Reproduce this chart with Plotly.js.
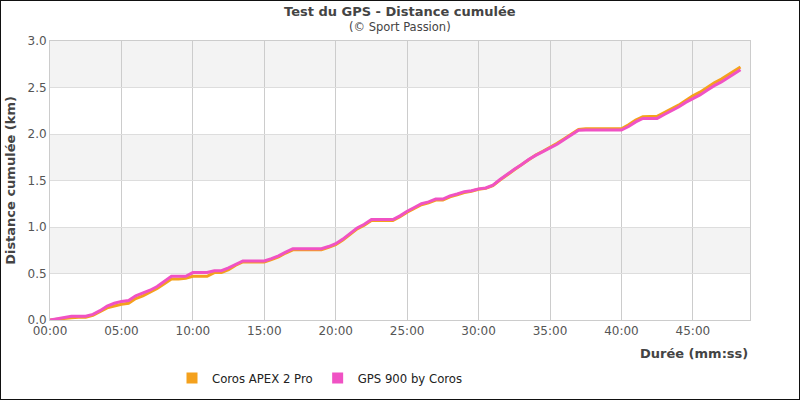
<!DOCTYPE html>
<html>
<head>
<meta charset="utf-8">
<script src="https://cdn.plot.ly/plotly-3.0.1.min.js"></script>
<style>
  body { margin: 0; }
  #wrap { position: relative; width: 800px; height: 400px; }
  #App { width: 800px; height: 400px; }
  #frame { position: absolute; left: 0; top: 0; width: 798px; height: 398px; border: 1px solid #111; pointer-events: none; }
</style>
</head>
<body>
<div id="wrap">
  <div id="App"></div>
  <div id="frame"></div>
</div>
<script>
// durées (mm:ss), une mesure toutes les 30 s
const times = [
  "00:00", "00:30", "01:00", "01:30", "02:00", "02:30", "03:00", "03:30", "04:00", "04:30",
  "05:00", "05:30", "06:00", "06:30", "07:00", "07:30", "08:00", "08:30", "09:00", "09:30",
  "10:00", "10:30", "11:00", "11:30", "12:00", "12:30", "13:00", "13:30", "14:00", "14:30",
  "15:00", "15:30", "16:00", "16:30", "17:00", "17:30", "18:00", "18:30", "19:00", "19:30",
  "20:00", "20:30", "21:00", "21:30", "22:00", "22:30", "23:00", "23:30", "24:00", "24:30",
  "25:00", "25:30", "26:00", "26:30", "27:00", "27:30", "28:00", "28:30", "29:00", "29:30",
  "30:00", "30:30", "31:00", "31:30", "32:00", "32:30", "33:00", "33:30", "34:00", "34:30",
  "35:00", "35:30", "36:00", "36:30", "37:00", "37:30", "38:00", "38:30", "39:00", "39:30",
  "40:00", "40:30", "41:00", "41:30", "42:00", "42:30", "43:00", "43:30", "44:00", "44:30",
  "45:00", "45:30", "46:00", "46:30", "47:00", "47:30", "48:00", "48:20"
];

// distance cumulée (km)
const corosApex = [
  0.00, 0.01, 0.02, 0.025, 0.03, 0.03, 0.05, 0.09, 0.13, 0.15,
  0.17, 0.18, 0.23, 0.26, 0.30, 0.34, 0.39, 0.44, 0.44, 0.45,
  0.47, 0.47, 0.47, 0.51, 0.51, 0.54, 0.59, 0.625, 0.625, 0.625,
  0.625, 0.65, 0.68, 0.72, 0.755, 0.755, 0.755, 0.755, 0.755, 0.78,
  0.81, 0.86, 0.92, 0.98, 1.02, 1.07, 1.07, 1.07, 1.07, 1.11,
  1.16, 1.20, 1.24, 1.26, 1.29, 1.29, 1.325, 1.345, 1.37, 1.385,
  1.405, 1.415, 1.445, 1.505, 1.565, 1.615, 1.67, 1.725, 1.775, 1.815,
  1.855, 1.90, 1.95, 2.00, 2.05, 2.057, 2.057, 2.057, 2.057, 2.057,
  2.057, 2.10, 2.15, 2.186, 2.19, 2.19, 2.23, 2.27, 2.31, 2.36,
  2.41, 2.45, 2.50, 2.55, 2.59, 2.64, 2.69, 2.72
];
const gps900 = [
  0.00, 0.015, 0.03, 0.04, 0.04, 0.04, 0.06, 0.10, 0.15, 0.18,
  0.20, 0.21, 0.26, 0.29, 0.32, 0.36, 0.42, 0.47, 0.47, 0.47,
  0.51, 0.51, 0.51, 0.53, 0.53, 0.56, 0.60, 0.635, 0.635, 0.635,
  0.635, 0.66, 0.69, 0.73, 0.767, 0.767, 0.767, 0.767, 0.767, 0.79,
  0.82, 0.87, 0.93, 0.99, 1.03, 1.08, 1.08, 1.08, 1.08, 1.12,
  1.17, 1.21, 1.25, 1.27, 1.30, 1.30, 1.335, 1.355, 1.38, 1.39,
  1.41, 1.42, 1.45, 1.51, 1.57, 1.62, 1.67, 1.725, 1.77, 1.81,
  1.85, 1.89, 1.94, 1.99, 2.04, 2.043, 2.043, 2.043, 2.043, 2.043,
  2.043, 2.08, 2.13, 2.168, 2.168, 2.168, 2.21, 2.25, 2.29, 2.34,
  2.38, 2.42, 2.47, 2.52, 2.56, 2.61, 2.66, 2.69
];

const seriesNames = ["Coros APEX 2 Pro", "GPS 900 by Coros"];
const seriesColors = ["#f4a11d", "#f052c4"];

const toDate = t => "1970-01-01 00:" + t;
const x = times.map(toDate);

const lineTrace = (y, i) => ({
  type: "scatter",
  mode: "lines",
  x: x,
  y: y,
  name: seriesNames[i],
  showlegend: false,
  line: { color: seriesColors[i], width: 3 },
  hoverinfo: "x+y+name"
});

// traces vides juste pour avoir des carrés dans la légende
const legendTrace = i => ({
  type: "scatter",
  mode: "markers",
  x: [null],
  y: [null],
  name: seriesNames[i],
  marker: { symbol: "square", size: 11, color: seriesColors[i] }
});

const data = [
  lineTrace(corosApex, 0),
  lineTrace(gps900, 1),
  legendTrace(0),
  legendTrace(1)
];

// bandes grises alternées
const bands = [[0.5, 1.0], [1.5, 2.0], [2.5, 3.0]].map(b => ({
  type: "rect", xref: "paper", yref: "y", x0: 0, x1: 1, y0: b[0], y1: b[1],
  fillcolor: "#f3f3f3", line: { width: 0 }, layer: "below"
}));

const font = { family: "DejaVu Sans, Verdana, sans-serif", color: "#444" };

const layout = {
  width: 800,
  height: 400,
  margin: { l: 50, r: 50, t: 41, b: 80 },
  paper_bgcolor: "#fff",
  plot_bgcolor: "#fff",
  font: font,
  showlegend: true,
  legend: {
    orientation: "h",
    xref: "container", yref: "container",
    x: 0.215, xanchor: "left",
    y: 0.055, yanchor: "middle",
    font: { family: font.family, size: 11.7, color: "#222" },
    itemwidth: 30,
    traceorder: "normal"
  },
  xaxis: {
    type: "date",
    range: [toDate("00:00"), toDate("49:00")],
    tickformat: "%M:%S",
    tick0: toDate("00:00"),
    dtick: 300000,
    showgrid: true,
    gridcolor: "#cccccc",
    gridwidth: 1,
    showline: true,
    linecolor: "#cccccc",
    mirror: true,
    ticks: "",
    tickfont: { size: 12, color: "#555" },
    zeroline: false
  },
  yaxis: {
    range: [0, 3],
    dtick: 0.5,
    tickformat: ".1f",
    showgrid: true,
    gridcolor: "#dddddd",
    showline: true,
    linecolor: "#cccccc",
    mirror: true,
    ticks: "",
    tickfont: { size: 12, color: "#555" },
    zeroline: false,
    title: { text: "<b>Distance cumulée (km)</b>", font: { size: 13, color: "#444" }, standoff: 8 }
  },
  shapes: bands,
  annotations: [
    {
      text: "<b>Test du GPS - Distance cumulée</b>",
      xref: "paper", yref: "paper", x: 0.5, y: 1, yshift: 30,
      xanchor: "center", yanchor: "middle", showarrow: false,
      font: { size: 13, color: "#444" }
    },
    {
      text: "(© Sport Passion)",
      xref: "paper", yref: "paper", x: 0.5, y: 1, yshift: 14,
      xanchor: "center", yanchor: "middle", showarrow: false,
      font: { size: 11.5, color: "#444" }
    },
    {
      text: "<b>Durée (mm:ss)</b>",
      xref: "paper", yref: "paper", x: 1, y: 0, yshift: -33,
      xanchor: "right", yanchor: "middle", showarrow: false,
      font: { size: 13, color: "#444" }
    }
  ]
};

const config = { displayModeBar: false, staticPlot: true };

Plotly.newPlot("App", data, layout, config);
</script>
</body>
</html>
